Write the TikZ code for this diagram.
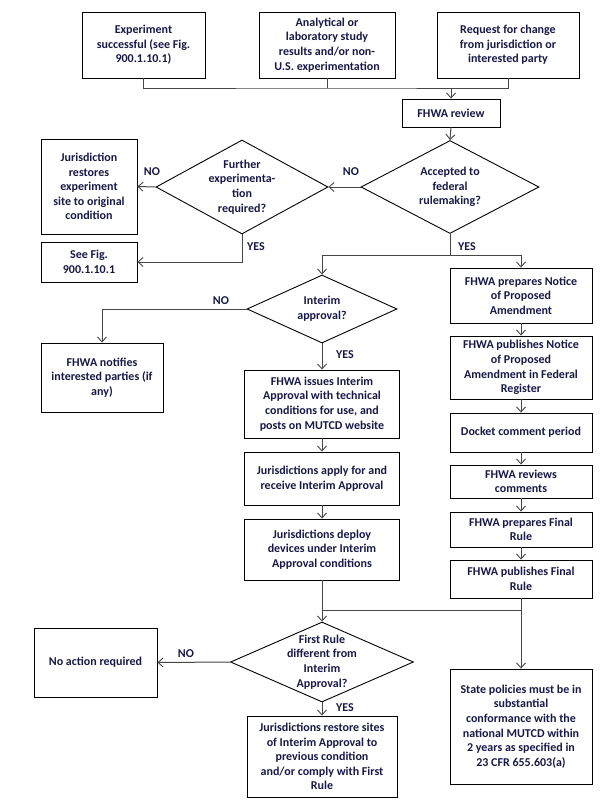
\documentclass[tikz,border=0pt]{standalone}
\usepackage{fontspec}
\setmainfont{Carlito}
\usetikzlibrary{arrows.meta,shapes.geometric}
\definecolor{txt}{RGB}{25,25,70}
\definecolor{ln}{RGB}{70,70,70}
\begin{document}
\begin{tikzpicture}[x=1pt,y=-1pt,
  every node/.style={font=\fontsize{12}{14.6}\selectfont\bfseries, text=txt},
  box/.style={draw=black, line width=0.9pt, align=center, inner sep=0pt},
  dia/.style={draw=black, line width=0.9pt, diamond, inner sep=0pt},
  dtext/.style={align=center, text=txt},
  lbl/.style={inner sep=0pt},
  conn/.style={draw=ln, line width=1pt},
  arr/.style={conn, -{Straight Barb[length=5pt,width=9pt,line width=0.9pt]}}
]
\useasboundingbox[fill=white] (0,0) rectangle (608,806);

% top boxes
\node[box, minimum width=123, minimum height=66] (A) at (143.5,45) {Experiment\\successful (see Fig.\\900.1.10.1)};
\node[box, minimum width=136, minimum height=66] (B) at (327,45) {Analytical or\\laboratory study\\results and/or non-\\U.S. experimentation};
\node[box, minimum width=142, minimum height=66] (C) at (508,45) {Request for change\\from jurisdiction or\\interested party};
\node[box, minimum width=98, minimum height=28] (rev) at (451,113) {FHWA review};

% decisions
\node[dia, minimum width=178, minimum height=93, label={[dtext]center:Accepted to\\federal\\rulemaking?}] (acc) at (450,187) {};
\node[dia, minimum width=172, minimum height=94, label={[dtext]center:Further\\experimenta-\\tion\\required?}] (fur) at (242,187) {};
\node[dia, minimum width=150, minimum height=68, label={[dtext]center:Interim\\approval?}] (int) at (322,309) {};
\node[dia, minimum width=183, minimum height=80, label={[dtext]center:First Rule\\different from\\Interim\\Approval?}] (fr) at (322,662) {};

% left column
\node[box, minimum width=96, minimum height=95] (jur) at (89,186.5) {Jurisdiction\\restores\\experiment\\site to original\\condition};
\node[box, minimum width=96, minimum height=40] (see) at (89,262) {See Fig.\\900.1.10.1};
\node[box, minimum width=122, minimum height=69] (notif) at (102,377.5) {FHWA notifies\\interested parties (if\\any)};
\node[box, minimum width=123, minimum height=69] (noact) at (95.5,662.5) {No action required};

% centre column
\node[box, minimum width=155, minimum height=68] (iss) at (322,404) {FHWA issues Interim\\Approval with technical\\conditions for use, and\\posts on MUTCD website};
\node[box, minimum width=155, minimum height=53] (app) at (322,478.5) {Jurisdictions apply for and\\receive Interim Approval};
\node[box, minimum width=155, minimum height=61] (dep) at (322,549.5) {Jurisdictions deploy\\devices under Interim\\Approval conditions};
\node[box, minimum width=150, minimum height=81] (res) at (322,756.5) {Jurisdictions restore sites\\of Interim Approval to\\previous condition\\and/or comply with First\\Rule};

% right column
\node[box, minimum width=142, minimum height=55] (prepN) at (521,295.5) {FHWA prepares Notice\\of Proposed\\Amendment};
\node[box, minimum width=142, minimum height=63] (pubN) at (521,367.5) {FHWA publishes Notice\\of Proposed\\Amendment in Federal\\Register};
\node[box, minimum width=142, minimum height=39] (dock) at (521,432.5) {Docket comment period};
\node[box, minimum width=142, minimum height=33] (rc) at (521,481.5) {FHWA reviews\\comments};
\node[box, minimum width=142, minimum height=35] (prepF) at (521,529.5) {FHWA prepares Final\\Rule};
\node[box, minimum width=142, minimum height=38] (pubF) at (521,579) {FHWA publishes Final\\Rule};
\node[box, minimum width=142, minimum height=115] (st) at (521,726.5) {State policies must be in\\substantial\\conformance with the\\national MUTCD within\\2 years as specified in\\23 CFR 655.603(a)};

% junction coordinates
\coordinate (jt) at (327,88);
\coordinate (sp) at (450,255);
\coordinate (mg) at (521,610);

% connectors top
\draw[conn] (A.south) |- (jt) -| (C.south);
\draw[conn] (B.south) -- (jt);
\draw[arr] (rev.north |- jt) -- (rev.north);
\draw[arr] (rev.south) -- (acc.north);

% accepted / further
\draw[arr] (acc.west) -- (fur.east);
\draw[arr] (fur.west) -- (jur.east);
\draw[arr] (fur.south) |- (see.east);
\draw[conn] (acc.south) -- (sp);
\draw[arr] (sp) -| (int.north);
\draw[arr] (sp) -| (prepN.north);

% interim
\draw[arr] (int.west) -| (notif.north);
\draw[arr] (int.south) -- (iss.north);
\draw[arr] (iss) -- (app);
\draw[arr] (app) -- (dep);

% right chain
\draw[arr] (prepN) -- (pubN);
\draw[arr] (pubN) -- (dock);
\draw[arr] (dock) -- (rc);
\draw[arr] (rc) -- (prepF);
\draw[arr] (prepF) -- (pubF);

% merge
\draw[arr] (dep.south) -- (fr.north);
\draw[arr] (pubF.south) -- (st.north);
\draw[conn] (mg) -- (dep.south |- mg);

% first rule
\draw[arr] (fr.west) -- (noact.east);
\draw[arr] (fr.south) -- (res.north);

% labels
\node[lbl] (l1) at (351,172) {NO};
\node[lbl] (l2) at (152,172) {NO};
\node[lbl] (l3) at (256,247) {YES};
\node[lbl] (l4) at (467,247) {YES};
\node[lbl] (l5) at (221,301) {NO};
\node[lbl] (l6) at (345,355) {YES};
\node[lbl] (l7) at (186,654) {NO};
\node[lbl] (l8) at (345,708) {YES};
\end{tikzpicture}
\end{document}
